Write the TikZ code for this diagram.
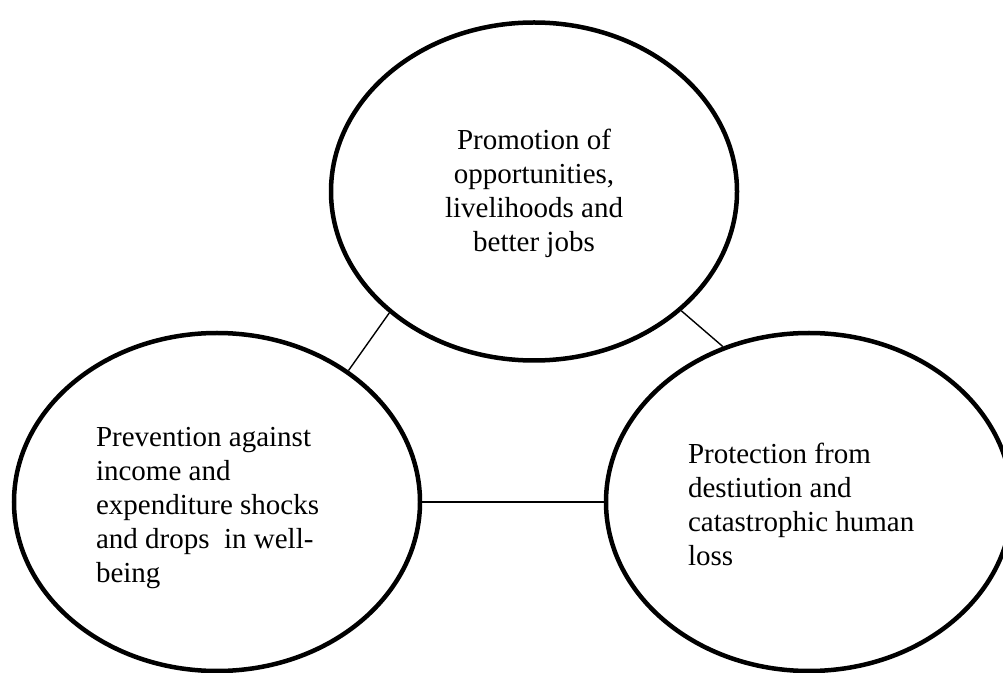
\documentclass[tikz,border=0pt]{standalone}
\usepackage{fontspec}
\setmainfont{Liberation Serif}
\usetikzlibrary{shapes.geometric}
\tikzset{
  circ/.style={ellipse, draw=black, line width=4.5pt, minimum width=406pt, minimum height=338pt, inner sep=0pt},
  lbl/.style={font=\fontsize{29}{34}\selectfont, inner sep=0pt, outer sep=0pt},
  link/.style={draw=black, line width=1.4pt},
}
\begin{document}
\begin{tikzpicture}[x=1pt,y=1pt]
\useasboundingbox (0,0) rectangle (1003,672);
\node[circ] (top) at (534,480.5) {};
\node[circ] (left) at (217,170) {};
\node[circ] (right) at (809,170) {};
\node[lbl, align=center, anchor=base] (toptext) at (534,420) {Promotion of\\opportunities,\\livelihoods and\\better jobs};
\node[lbl, align=left, anchor=base west] (lefttext) at (96,90) {Prevention against\\income and\\expenditure shocks\\and drops~ in well-\\being};
\node[lbl, align=left, anchor=base west] (righttext) at (688,107) {Protection from\\destiution and\\catastrophic human\\loss};
\draw[link] (left.45.6) -- (top.220.7);
\draw[link] (top.-39.8) -- (right.119.7);
\draw[link] (left.east) -- (right.west);
\end{tikzpicture}
\end{document}
